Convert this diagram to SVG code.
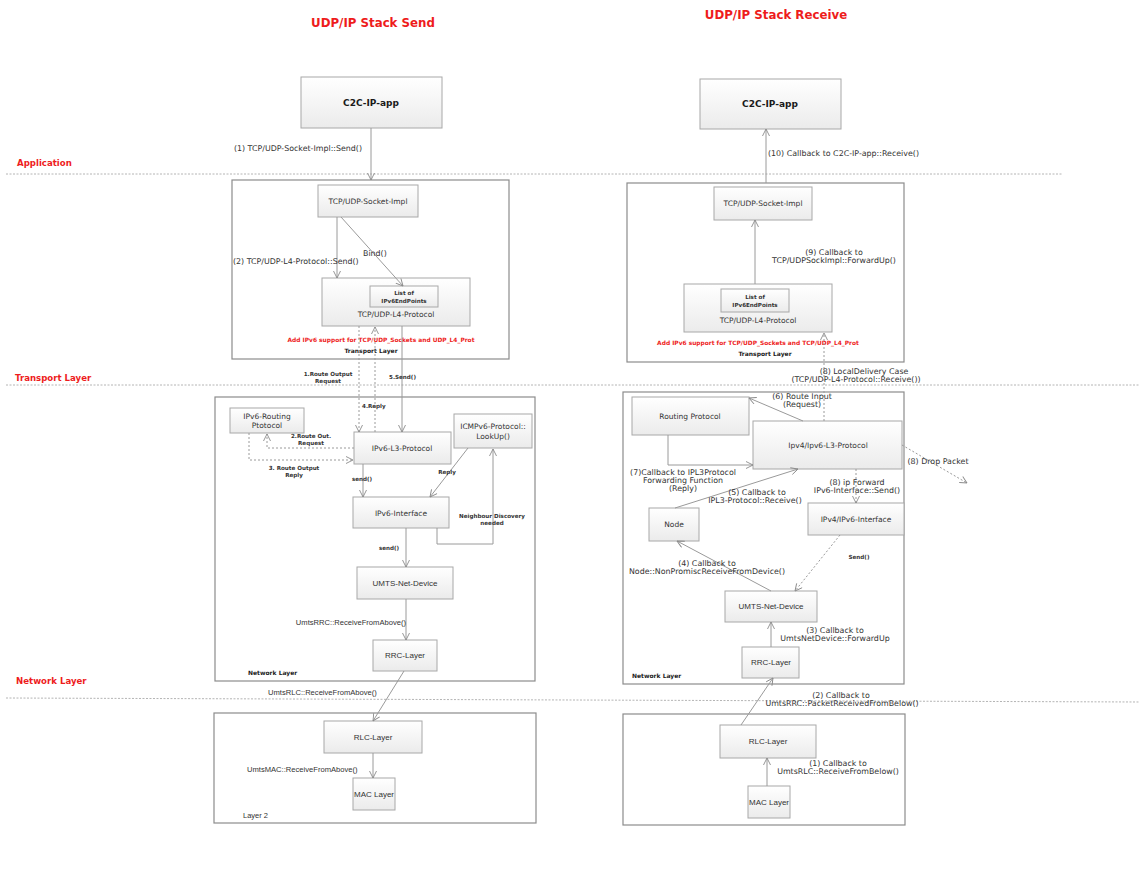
<svg xmlns="http://www.w3.org/2000/svg" width="1144" height="877" viewBox="0 0 1144 877">
  <defs>
    <linearGradient id="nodeFill" x1="0" y1="0" x2="0" y2="1">
      <stop offset="0" stop-color="#ffffff"/>
      <stop offset="1" stop-color="#ebebeb"/>
    </linearGradient>
    <marker id="arrow" viewBox="0 0 8 8" refX="7.5" refY="4" markerWidth="8" markerHeight="8" markerUnits="userSpaceOnUse" orient="auto">
      <path d="M0.5,0.5 L7.5,4 L0.5,7.5" fill="none" stroke="#8a8a8a" stroke-width="0.9"/>
    </marker>
    <style>
      .bg { fill: #ffffff; }
      .node rect { fill: url(#nodeFill); stroke: #a8a8a8; stroke-width: 1; }
      .frame { fill: #ffffff; stroke: #8c8c8c; stroke-width: 1.2; }
      .inner { fill: #ffffff; stroke: #a8a8a8; stroke-width: 1; }
      .sep { stroke: #b4b4b4; stroke-width: 1; stroke-dasharray: 2 1.5; fill: none; }
      .edge { stroke: #9a9a9a; stroke-width: 1; fill: none; }
      .dash { stroke: #9a9a9a; stroke-width: 1; fill: none; stroke-dasharray: 2 2; }
      .title { font-family: "DejaVu Sans", Verdana, sans-serif; font-weight: bold; font-size: 11.8px; fill: #ee1c1c; }
      .layer { font-family: "DejaVu Sans", Verdana, sans-serif; font-weight: bold; font-size: 8.6px; fill: #ee1c1c; }
      .app { font-family: "DejaVu Sans", Verdana, sans-serif; font-weight: bold; font-size: 9px; fill: #1a1a1a; }
      .nt { font-family: "DejaVu Sans", Verdana, sans-serif; font-size: 7.5px; fill: #333333; }
      .na { font-family: "Liberation Sans", Arial, sans-serif; font-size: 8px; fill: #333333; }
      .lbl { font-family: "DejaVu Sans", Verdana, sans-serif; font-size: 7.9px; fill: #333333; }
      .lba { font-family: "Liberation Sans", Arial, sans-serif; font-size: 7.6px; fill: #333333; }
      .sm { font-family: "DejaVu Sans", Verdana, sans-serif; font-weight: bold; font-size: 5.6px; fill: #333333; }
      .red { font-family: "DejaVu Sans", Verdana, sans-serif; font-weight: bold; font-size: 5.9px; fill: #ee1c1c; }
      .cap { font-family: "DejaVu Sans", Verdana, sans-serif; font-weight: bold; font-size: 6px; fill: #1a1a1a; }
      .c { text-anchor: middle; }
      .e { text-anchor: end; }
    </style>
  </defs>

  <rect class="bg" x="0" y="0" width="1144" height="877"/>

  <!-- titles -->
  <text class="title c" x="373" y="27">UDP/IP Stack Send</text>
  <text class="title c" x="776" y="19">UDP/IP Stack Receive</text>

  <!-- layer separators -->
  <g id="separators">
    <line class="sep" x1="6" y1="174" x2="1062" y2="174"/>
    <line class="sep" x1="6" y1="385" x2="1140" y2="385"/>
    <line class="sep" x1="6" y1="698" x2="1140" y2="702"/>
    <text class="layer" x="17" y="166">Application</text>
    <text class="layer" x="15" y="381">Transport Layer</text>
    <text class="layer" x="16" y="684">Network Layer</text>
  </g>

  <!-- layer frames -->
  <g id="frames">
    <rect class="frame" x="232" y="180" width="277" height="179"/>
    <rect class="frame" x="215" y="397" width="320" height="284"/>
    <rect class="frame" x="214" y="713" width="322" height="110"/>
    <rect class="frame" x="627" y="183" width="277" height="179"/>
    <rect class="frame" x="623" y="392" width="281" height="292"/>
    <rect class="frame" x="623" y="714" width="282" height="111"/>
    <text class="red c" x="381" y="342">Add IPv6 support for TCP/UDP_Sockets and UDP_L4_Prot</text>
    <text class="cap c" x="371" y="353">Transport Layer</text>
    <text class="cap" x="248" y="675">Network Layer</text>
    <text class="na" x="243" y="818" style="font-size:7.5px">Layer 2</text>
    <text class="red c" x="758" y="345">Add IPv6 support for TCP/UDP_Sockets and TCP/UDP_L4_Prot</text>
    <text class="cap c" x="765" y="356">Transport Layer</text>
    <text class="cap" x="632" y="678">Network Layer</text>
  </g>

  <!-- send stack nodes -->
  <g id="send-app" class="node">
    <rect x="301" y="77" width="141" height="51"/>
    <text class="app c" x="371" y="106">C2C-IP-app</text>
  </g>
  <g id="send-socket" class="node">
    <rect x="318" y="185" width="100" height="32"/>
    <text class="nt c" x="368" y="204">TCP/UDP-Socket-Impl</text>
  </g>
  <g id="send-l4" class="node">
    <rect x="322" y="278" width="148" height="48"/>
    <rect class="inner" x="370" y="286" width="68" height="21"/>
    <text class="sm c" x="404" y="295">List of</text>
    <text class="sm c" x="404" y="303">IPv6EndPoints</text>
    <text class="nt c" x="396" y="317">TCP/UDP-L4-Protocol</text>
  </g>
  <g id="send-routing" class="node">
    <rect x="230" y="408" width="74" height="25"/>
    <text class="nt c" x="267" y="419">IPv6-Routing</text>
    <text class="nt c" x="267" y="428">Ptotocol</text>
  </g>
  <g id="send-l3" class="node">
    <rect x="354" y="432" width="97" height="32"/>
    <text class="nt c" x="402" y="451">IPv6-L3-Protocol</text>
  </g>
  <g id="send-icmp" class="node">
    <rect x="454" y="414" width="78" height="34"/>
    <text class="nt c" x="493" y="429">ICMPv6-Protocol::</text>
    <text class="nt c" x="493" y="439">LookUp()</text>
  </g>
  <g id="send-iface" class="node">
    <rect x="353" y="497" width="96" height="31"/>
    <text class="nt c" x="401" y="516">IPv6-Interface</text>
  </g>
  <g id="send-umts" class="node">
    <rect x="357" y="567" width="96" height="32"/>
    <text class="na c" x="405" y="586">UMTS-Net-Device</text>
  </g>
  <g id="send-rrc" class="node">
    <rect x="373" y="640" width="64" height="31"/>
    <text class="na c" x="405" y="658">RRC-Layer</text>
  </g>
  <g id="send-rlc" class="node">
    <rect x="324" y="721" width="98" height="32"/>
    <text class="na c" x="373" y="740">RLC-Layer</text>
  </g>
  <g id="send-mac" class="node">
    <rect x="353" y="778" width="42" height="32"/>
    <text class="na c" x="374" y="797">MAC Layer</text>
  </g>

  <!-- receive stack nodes -->
  <g id="recv-app" class="node">
    <rect x="700" y="79" width="141" height="50"/>
    <text class="app c" x="770" y="107">C2C-IP-app</text>
  </g>
  <g id="recv-socket" class="node">
    <rect x="714" y="187" width="98" height="33"/>
    <text class="nt c" x="763" y="206">TCP/UDP-Socket-Impl</text>
  </g>
  <g id="recv-l4" class="node">
    <rect x="684" y="284" width="148" height="48"/>
    <rect class="inner" x="721" y="289" width="68" height="23"/>
    <text class="sm c" x="755" y="299">List of</text>
    <text class="sm c" x="755" y="307">IPv6EndPoints</text>
    <text class="nt c" x="758" y="323">TCP/UDP-L4-Protocol</text>
  </g>
  <g id="recv-routing" class="node">
    <rect x="632" y="397" width="117" height="38"/>
    <text class="nt c" x="690" y="419">Routing Protocol</text>
  </g>
  <g id="recv-l3" class="node">
    <rect x="753" y="421" width="149" height="48"/>
    <text class="nt c" x="828" y="448">Ipv4/Ipv6-L3-Protocol</text>
  </g>
  <g id="recv-node" class="node">
    <rect x="649" y="508" width="50" height="33"/>
    <text class="nt c" x="674" y="527">Node</text>
  </g>
  <g id="recv-iface" class="node">
    <rect x="808" y="503" width="96" height="32"/>
    <text class="nt c" x="856" y="522">IPv4/IPv6-Interface</text>
  </g>
  <g id="recv-umts" class="node">
    <rect x="725" y="591" width="92" height="31"/>
    <text class="na c" x="771" y="609">UMTS-Net-Device</text>
  </g>
  <g id="recv-rrc" class="node">
    <rect x="742" y="647" width="57" height="31"/>
    <text class="na c" x="771" y="665">RRC-Layer</text>
  </g>
  <g id="recv-rlc" class="node">
    <rect x="720" y="725" width="96" height="33"/>
    <text class="na c" x="768" y="744">RLC-Layer</text>
  </g>
  <g id="recv-mac" class="node">
    <rect x="748" y="786" width="42" height="32"/>
    <text class="na c" x="769" y="805">MAC Layer</text>
  </g>

  <!-- connectors -->
  <g id="connectors">
    <!-- send path -->
    <line class="edge" x1="371" y1="128" x2="371" y2="180" marker-end="url(#arrow)"/>
    <text class="lbl e" x="362" y="151">(1) TCP/UDP-Socket-Impl::Send()</text>

    <line class="edge" x1="337" y1="217" x2="337" y2="278" marker-end="url(#arrow)"/>
    <text class="lbl" x="233" y="264">(2) TCP/UDP-L4-Protocol::Send()</text>
    <line class="edge" x1="341" y1="217" x2="403" y2="286" marker-end="url(#arrow)"/>
    <text class="lbl" x="363" y="256">Bind()</text>

    <line class="dash" x1="359" y1="326" x2="359" y2="432" marker-end="url(#arrow)"/>
    <text class="sm c" x="328" y="376">1.Route Output</text>
    <text class="sm c" x="328" y="383">Request</text>
    <line class="dash" x1="375" y1="432" x2="375" y2="327" marker-end="url(#arrow)"/>
    <text class="sm" x="362" y="408">4.Reply</text>
    <line class="edge" x1="402" y1="326" x2="402" y2="432" marker-end="url(#arrow)"/>
    <text class="sm" x="389" y="379">5.Send()</text>

    <polyline class="dash" points="354,448 267,448 267,434" marker-end="url(#arrow)"/>
    <text class="sm c" x="311" y="438">2.Route Out.</text>
    <text class="sm c" x="311" y="445">Request</text>
    <polyline class="dash" points="249,433 249,460 353,460" marker-end="url(#arrow)"/>
    <text class="sm c" x="294" y="470">3. Route Output</text>
    <text class="sm c" x="294" y="477">Reply</text>

    <line class="edge" x1="363" y1="464" x2="363" y2="497" marker-end="url(#arrow)"/>
    <text class="sm c" x="362" y="481">send()</text>
    <line class="edge" x1="468" y1="448" x2="430" y2="497" marker-end="url(#arrow)"/>
    <text class="sm c" x="447" y="474">Reply</text>
    <polyline class="edge" points="437,528 437,544 493,544 493,449" marker-end="url(#arrow)"/>
    <text class="sm c" x="492" y="518">Neighbour Discovery</text>
    <text class="sm c" x="492" y="525">needed</text>

    <line class="edge" x1="406" y1="528" x2="406" y2="567" marker-end="url(#arrow)"/>
    <text class="sm c" x="389" y="550">send()</text>
    <line class="edge" x1="406" y1="599" x2="406" y2="640" marker-end="url(#arrow)"/>
    <text class="lba e" x="406" y="625">UmtsRRC::ReceiveFromAbove()</text>
    <line class="edge" x1="404" y1="671" x2="373" y2="721" marker-end="url(#arrow)"/>
    <text class="lba" x="268" y="695">UmtsRLC::ReceiveFromAbove()</text>
    <line class="edge" x1="373" y1="753" x2="373" y2="778" marker-end="url(#arrow)"/>
    <text class="lba" x="247" y="772">UmtsMAC::ReceiveFromAbove()</text>

    <!-- receive path -->
    <line class="edge" x1="766" y1="183" x2="766" y2="129" marker-end="url(#arrow)"/>
    <text class="lbl" x="768" y="156">(10) Callback to C2C-IP-app::Receive()</text>

    <line class="edge" x1="755" y1="284" x2="755" y2="220" marker-end="url(#arrow)"/>
    <text class="lbl c" x="834" y="255">(9) Callback to</text>
    <text class="lbl c" x="834" y="263">TCP/UDPSockImpl::ForwardUp()</text>

    <line class="dash" x1="824" y1="421" x2="824" y2="333" marker-end="url(#arrow)"/>
    <text class="lbl c" x="864" y="374">(8) LocalDelivery Case</text>
    <text class="lbl c" x="856" y="382">(TCP/UDP-L4-Protocol::Receive())</text>

    <line class="edge" x1="803" y1="421" x2="749" y2="398" marker-end="url(#arrow)"/>
    <text class="lbl c" x="802" y="399">(6) Route Input</text>
    <text class="lbl c" x="802" y="407">(Request)</text>

    <polyline class="edge" points="668,435 668,465 753,465" marker-end="url(#arrow)"/>
    <text class="lbl c" x="683" y="475">(7)Callback to IPL3Protocol</text>
    <text class="lbl c" x="683" y="483">Forwarding Function</text>
    <text class="lbl c" x="683" y="491">(Reply)</text>

    <line class="edge" x1="675" y1="508" x2="798" y2="469" marker-end="url(#arrow)"/>
    <text class="lbl c" x="757" y="495">(5) Callback to</text>
    <text class="lbl c" x="755" y="503">IPL3-Protocol::Receive()</text>

    <line class="dash" x1="902" y1="445" x2="967" y2="483" marker-end="url(#arrow)"/>
    <text class="lbl c" x="938" y="464">(8) Drop Packet</text>

    <line class="dash" x1="856" y1="469" x2="856" y2="503" marker-end="url(#arrow)"/>
    <text class="lbl c" x="857" y="485">(8) ip Forward</text>
    <text class="lbl c" x="857" y="493">IPv6-Interface::Send()</text>

    <line class="dash" x1="840" y1="535" x2="795" y2="591" marker-end="url(#arrow)"/>
    <text class="sm c" x="859" y="559">Send()</text>

    <line class="edge" x1="771" y1="591" x2="677" y2="541" marker-end="url(#arrow)"/>
    <text class="lbl c" x="707" y="566">(4) Callback to</text>
    <text class="lbl c" x="707" y="574">Node::NonPromiscReceiveFromDevice()</text>

    <line class="edge" x1="771" y1="647" x2="771" y2="622" marker-end="url(#arrow)"/>
    <text class="lbl c" x="835" y="633">(3) Callback to</text>
    <text class="lbl c" x="835" y="641">UmtsNetDevice::ForwardUp</text>

    <line class="edge" x1="741" y1="725" x2="773" y2="678" marker-end="url(#arrow)"/>
    <text class="lbl c" x="841" y="698">(2) Callback to</text>
    <text class="lbl c" x="842" y="706">UmtsRRC::PacketReceivedFromBelow()</text>

    <line class="edge" x1="767" y1="786" x2="767" y2="758" marker-end="url(#arrow)"/>
    <text class="lbl c" x="838" y="766">(1) Callback to</text>
    <text class="lbl c" x="838" y="774">UmtsRLC::ReceiveFromBelow()</text>
  </g>
</svg>
